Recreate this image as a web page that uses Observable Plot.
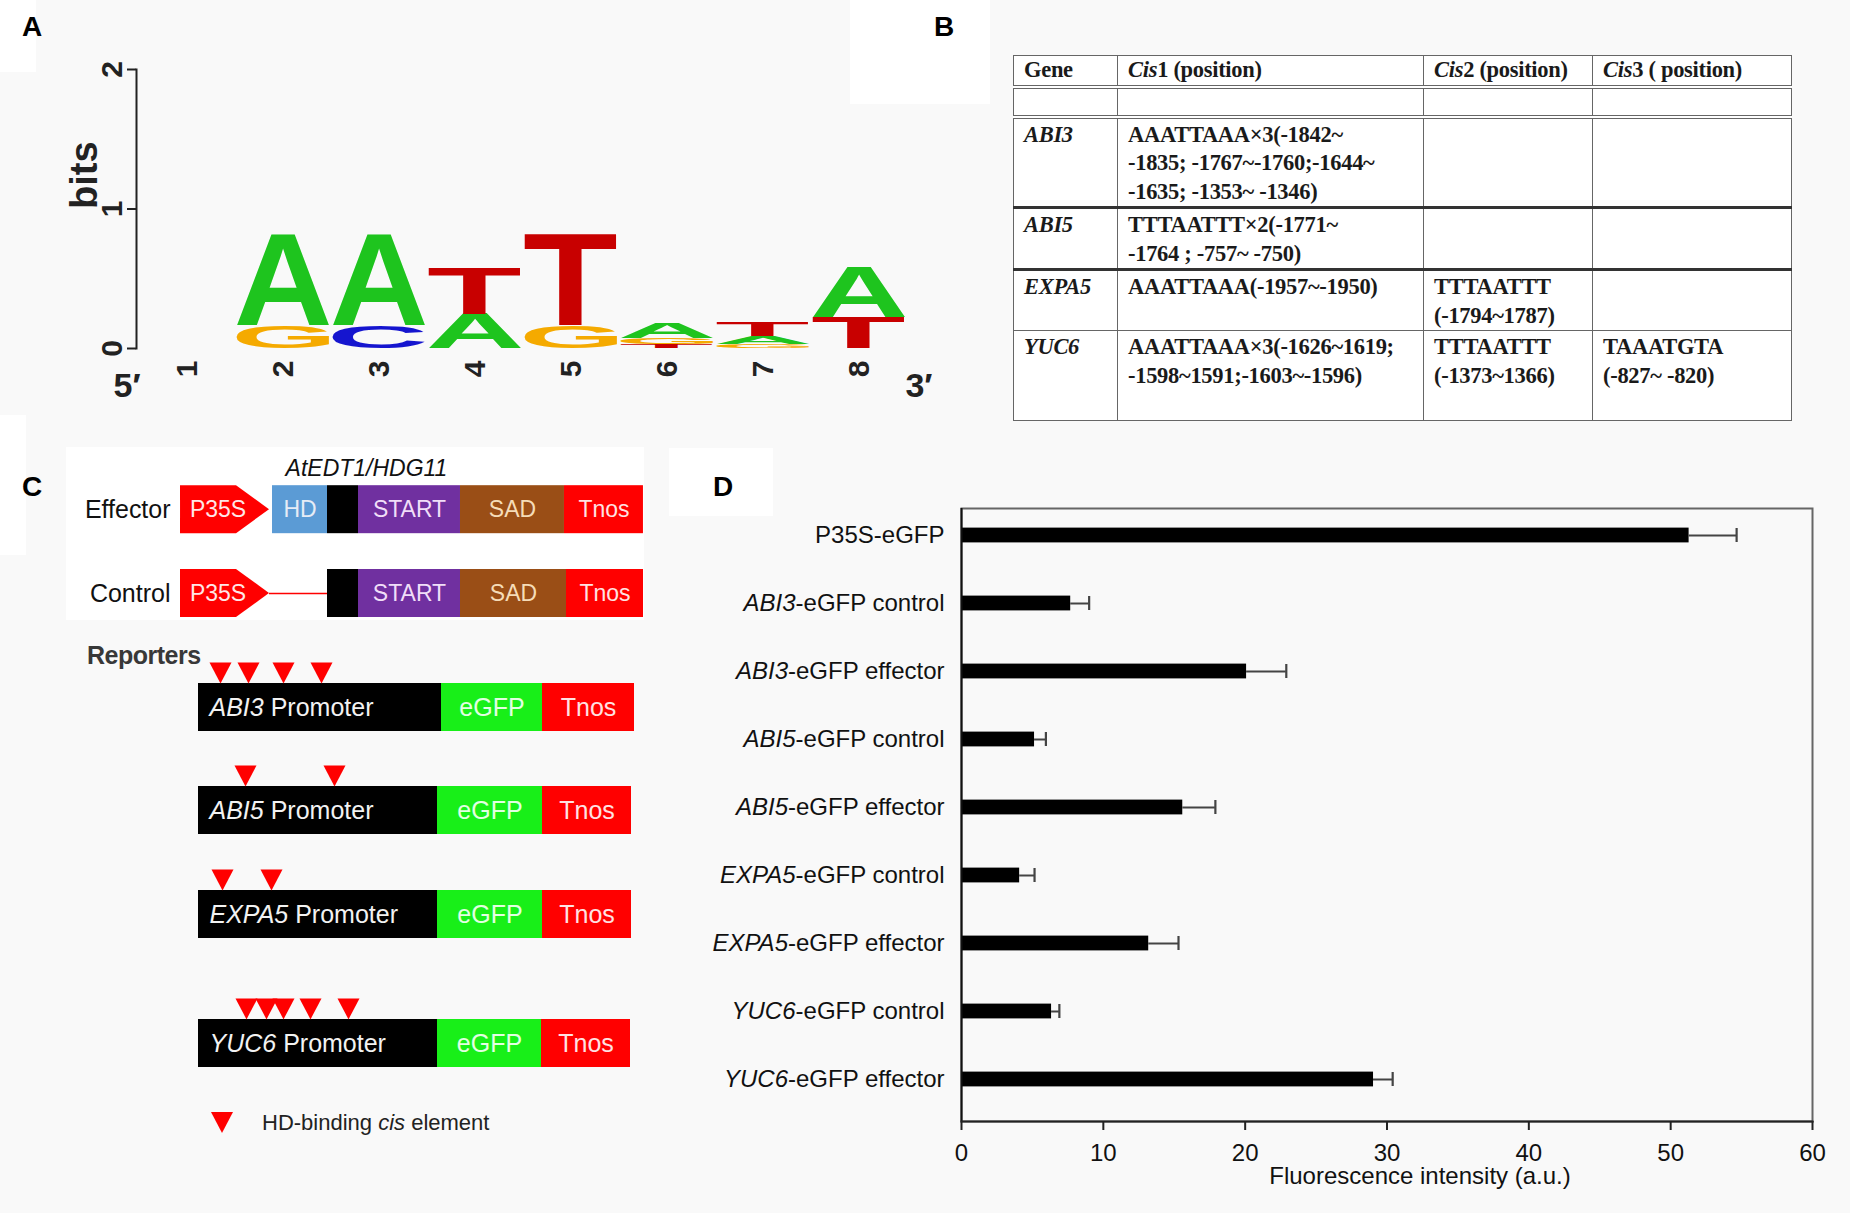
<!DOCTYPE html>
<html>
<head>
<meta charset="utf-8">
<script src="https://cdn.jsdelivr.net/npm/d3@7"></script>
<script src="https://cdn.jsdelivr.net/npm/@observablehq/plot@0.6"></script>
<style>
html,body{margin:0;padding:0;background:#f9f9f9;}
#root{position:relative;width:1850px;height:1213px;overflow:hidden;font-family:"Liberation Sans",Arial,sans-serif;color:#111;}
.patch{position:absolute;background:#fff;}
.plabel{position:absolute;font:bold 28px "Liberation Sans",Arial,sans-serif;transform:translate(-50%,-50%);line-height:1;color:#000;}
#tbl{position:absolute;left:1013px;top:55px;border-collapse:collapse;background:#fff;font-family:"Liberation Serif","Times New Roman",serif;font-weight:bold;font-size:22.5px;color:#1a1a1a;table-layout:fixed;}
#tbl td{border:1.5px solid #666;vertical-align:top;padding:2px 0 0 10px;line-height:28.5px;white-space:pre-line;letter-spacing:-0.3px;overflow:hidden;}
#tbl tr.hdr td{vertical-align:middle;padding-top:0;border-bottom:4px double #666;}
#tbl tr.blank td{border-bottom:4px double #666;}
#tbl tr.thick td{border-bottom:3px solid #333;}
.txt{position:absolute;white-space:nowrap;line-height:1;}
</style>
</head>
<body>
<div id="root"></div>
<script>
// ===================== DATA =====================
// Panel A: sequence logo (information content in bits, stacked bottom -> top)
const logoPositions = [1, 2, 3, 4, 5, 6, 7, 8];
const logoLetters = [[], ["G", "A"], ["C", "A"], ["A", "T"], ["G", "T"], ["T", "G", "A"], ["G", "A", "T"], ["T", "A"]];
const logoBits = [[], [0.163, 0.658], [0.163, 0.658], [0.246, 0.335], [0.163, 0.658], [0.025, 0.05, 0.115], [0.03, 0.054, 0.103], [0.222, 0.358]];
const logoTicks = [0, 1, 2];

// Panel B: table of HD-binding cis elements
const tableHeader = ["Gene", "Cis1 (position)", "Cis2 (position)", "Cis3 ( position)"];
const tableGenes = ["ABI3", "ABI5", "EXPA5", "YUC6"];
const tableCis1 = [
  "AAATTAAA×3(-1842~\n-1835; -1767~-1760;-1644~\n-1635; -1353~ -1346)",
  "TTTAATTT×2(-1771~\n-1764 ; -757~ -750)",
  "AAATTAAA(-1957~-1950)",
  "AAATTAAA×3(-1626~1619;\n-1598~1591;-1603~-1596)"
];
const tableCis2 = ["", "", "TTTAATTT\n(-1794~1787)", "TTTAATTT\n(-1373~1366)"];
const tableCis3 = ["", "", "", "TAAATGTA\n(-827~ -820)"];

// Panel C: constructs (schematic segment lengths)
const effectorParts = ["P35S", "gap", "HD", "linker", "START", "SAD", "Tnos"];
const effectorLengths = [89, 3, 55, 31, 102, 104, 79];
const controlParts = ["P35S", "deletion", "linker", "START", "SAD", "Tnos"];
const controlLengths = [89, 58, 31, 102, 106, 77];
const reporterGenes = ["ABI3", "ABI5", "EXPA5", "YUC6"];
const reporterParts = ["Promoter", "eGFP", "Tnos"];
const reporterLengths = [[243, 101, 92], [239, 105, 89], [239, 105, 89], [239, 104, 89]];
const cisSites = [[22, 50, 85, 123], [47, 136], [24, 73], [48, 68, 85, 112, 150]];

// Panel D: fluorescence intensity (a.u.), mean and error
const dLabels = ["P35S-eGFP", "ABI3-eGFP control", "ABI3-eGFP effector", "ABI5-eGFP control", "ABI5-eGFP effector",
                 "EXPA5-eGFP control", "EXPA5-eGFP effector", "YUC6-eGFP control", "YUC6-eGFP effector"];
const dMeans = [51.3, 7.7, 20.1, 5.15, 15.6, 4.1, 13.2, 6.35, 29.05];
const dErrors = [3.35, 1.3, 2.8, 0.8, 2.3, 1.05, 2.1, 0.55, 1.35];
const dTicks = [0, 10, 20, 30, 40, 50, 60];
const dAxisTitle = "Fluorescence intensity (a.u.)";
const italicGenes = ["ABI3", "ABI5", "EXPA5", "YUC6"];

// ===================== STYLES =====================
const logoColors = {A: "#1ec41e", C: "#1515cf", G: "#f5aa00", T: "#c80000"};
const partFill = {P35S: "#ff0000", HD: "#5b9bd5", linker: "#000000", START: "#7030a0", SAD: "#9a4e16", Tnos: "#ff0000", Promoter: "#000000", eGFP: "#18ef18"};
const partText = {P35S: "#ffe6e6", HD: "#e6ecf6", START: "#f0def8", SAD: "#f5dcb8", Tnos: "#ffe2e2", Promoter: "#f2f2f2", eGFP: "#e2ffe2"};
const plotStyle = {background: "transparent", fontFamily: "'Liberation Sans', Arial, sans-serif", color: "#111", overflow: "visible"};

const root = document.getElementById("root");
function put(node, left, top) {
  node.style.position = "absolute";
  node.style.left = left + "px";
  node.style.top = top + "px";
  root.appendChild(node);
  return node;
}
function patch(l, t, w, h) {
  const d = document.createElement("div");
  d.className = "patch";
  d.style.width = w + "px"; d.style.height = h + "px";
  put(d, l, t);
}
function label(txt, x, y) {
  const d = document.createElement("div");
  d.className = "plabel"; d.textContent = txt;
  put(d, x, y);
}
const SVGNS = "http://www.w3.org/2000/svg";
function italicize(svg) {
  svg.querySelectorAll("text").forEach(t => {
    if (t.querySelector("tspan")) return;
    const s = t.textContent;
    const g = italicGenes.find(g => s.startsWith(g) && s.length > g.length);
    if (!g) return;
    t.textContent = "";
    const a = document.createElementNS(SVGNS, "tspan");
    a.setAttribute("font-style", "italic"); a.textContent = g;
    const b = document.createElementNS(SVGNS, "tspan");
    b.textContent = s.slice(g.length);
    t.append(a, b);
  });
}
function scaleFn(plot, name) {
  const s = plot.scale(name);
  if (s && typeof s.apply === "function") return v => s.apply(v);
  if (s.type === "band") {
    return d3.scaleBand().domain(s.domain).range(s.range)
      .paddingInner(s.paddingInner || 0).paddingOuter(s.paddingOuter || 0).align(s.align == null ? 0.5 : s.align);
  }
  return d3.scaleLinear().domain(s.domain).range(s.range);
}

// white patches (background of original panels)
patch(0, 0, 36, 72);
patch(850, 0, 140, 104);
patch(0, 415, 26, 140);
patch(66, 447, 578, 173);
patch(669, 448, 104, 68);

// ===================== PANEL A =====================
const logoRows = [];
logoPositions.forEach((p, i) => {
  let acc = 0;
  logoLetters[i].forEach((b, j) => {
    const h = logoBits[i][j];
    logoRows.push({pos: p, base: b, y1: acc, y2: acc + h});
    acc += h;
  });
});

const plotA = Plot.plot({
  width: 960, height: 420,
  marginLeft: 136, marginRight: 53, marginTop: 69, marginBottom: 72,
  style: plotStyle,
  x: {type: "band", domain: logoPositions, range: [139, 907], padding: 0, axis: null, label: null},
  y: {domain: [0, 2], axis: null, label: null},
  marks: [
    Plot.frame({anchor: "left", stroke: "#222", strokeWidth: 2}),
    Plot.axisY({ticks: logoTicks, tickSize: 9, tickFormat: () => "", stroke: "#222", strokeWidth: 2, label: null}),
    Plot.text(logoTicks, {y: d => d, text: d => String(d), frameAnchor: "left", dx: -15, rotate: -90,
      textAnchor: "middle", lineAnchor: "bottom", fontSize: 30, fontWeight: "bold", fill: "#222"}),
    Plot.text(logoPositions, {x: d => d, text: d => String(d), frameAnchor: "bottom", dy: 12, rotate: -90,
      textAnchor: "end", lineAnchor: "middle", fontSize: 30, fontWeight: "bold", fill: "#222"}),
    Plot.text(["bits"], {text: d => d, frameAnchor: "left", dx: -52, rotate: -90, lineAnchor: "middle",
      fontSize: 38, fontWeight: "bold", fill: "#222"}),
    Plot.text(["5′"], {text: d => d, frameAnchor: "bottom-left", dx: -23, dy: 48, fontSize: 34, fontWeight: "bold", fill: "#222"}),
    Plot.text(["3′"], {text: d => d, frameAnchor: "bottom-right", dx: 25, dy: 48, fontSize: 34, fontWeight: "bold", fill: "#222"}),
    // sequence-logo letters: last text mark, stretched to their stack boxes below
    Plot.text(logoRows, {x: "pos", y: "y1", text: "base", fill: d => logoColors[d.base], fontSize: 100, fontWeight: "bold"})
  ]
});
put(plotA, 0, 0);
(function stretchLetters() {
  const fx = scaleFn(plotA, "x"), fy = scaleFn(plotA, "y");
  const bw = plotA.scale("x").bandwidth;
  const ctx = document.createElement("canvas").getContext("2d");
  ctx.font = "bold 100px 'Liberation Sans'";
  const groups = plotA.querySelectorAll('g[aria-label="text"]');
  const grp = groups[groups.length - 1];
  grp.setAttribute("text-anchor", "start");
  grp.removeAttribute("transform");
  const texts = grp.querySelectorAll("text");
  texts.forEach((t, i) => {
    const r = logoRows[i];
    const m = ctx.measureText(r.base);
    const L = m.actualBoundingBoxLeft, R = m.actualBoundingBoxRight;
    const A = m.actualBoundingBoxAscent, D = m.actualBoundingBoxDescent;
    const x0 = fx(r.pos) + 1.5, w = bw - 3;
    const yTop = fy(r.y2), yBot = fy(r.y1);
    const h = Math.max(0.1, yBot - yTop);
    ["x", "y", "dx", "dy"].forEach(a => t.removeAttribute(a));
    t.setAttribute("text-anchor", "start");
    t.setAttribute("font-size", "100");
    t.setAttribute("font-family", "'Liberation Sans', Arial, sans-serif");
    t.setAttribute("transform", `translate(${x0},${yTop}) scale(${w / (L + R)},${h / (A + D)}) translate(${L},${A})`);
  });
})();
label("A", 32, 27);

// ===================== PANEL B =====================
label("B", 944, 27);
(function buildTable() {
  const tbl = document.createElement("table");
  tbl.id = "tbl";
  const cg = document.createElement("colgroup");
  [104, 306, 169, 199].forEach(w => { const c = document.createElement("col"); c.style.width = w + "px"; cg.appendChild(c); });
  tbl.appendChild(cg);
  function addRow(cells, cls, h, italicFirst) {
    const tr = document.createElement("tr");
    if (cls) tr.className = cls;
    tr.style.height = h + "px";
    cells.forEach((c, k) => {
      const td = document.createElement("td");
      if (cls === "hdr" && c.startsWith("Cis")) {
        const i = document.createElement("i"); i.textContent = "Cis";
        td.appendChild(i); td.appendChild(document.createTextNode(c.slice(3)));
      } else if (k === 0 && italicFirst) {
        const i = document.createElement("i"); i.textContent = c; td.appendChild(i);
      } else td.textContent = c;
      tr.appendChild(td);
    });
    tbl.appendChild(tr);
  }
  addRow(tableHeader, "hdr", 31);
  addRow(["", "", "", ""], "blank", 30);
  const heights = [88, 61, 58, 90];
  tableGenes.forEach((g, i) => {
    addRow([g, tableCis1[i], tableCis2[i], tableCis3[i]], i < 2 ? "thick" : "", heights[i], true);
  });
  root.appendChild(tbl);
})();

// ===================== PANEL C =====================
label("C", 32, 487);
const HALF = 24;      // half box height in px
const arrowTip = 33;  // length of the promoter arrow head
const triDown = {
  draw(context, size) {
    const r = Math.sqrt(size / Math.PI);
    context.moveTo(-r, -r * 0.95);
    context.lineTo(r, -r * 0.95);
    context.lineTo(0, r * 0.95);
    context.closePath();
  }
};
function constructPlot({parts, lengths, rowLabel, gene, sites, ymax, heading}) {
  const ml = 130, span = 470;
  const segs = [];
  let acc = 0;
  parts.forEach((p, i) => { segs.push({part: p, x1: acc, x2: acc + lengths[i]}); acc += lengths[i]; });
  const boxes = segs.filter(s => partFill[s.part] && s.part !== "P35S");
  const arrow = segs.find(s => s.part === "P35S");
  const del = segs.find(s => s.part === "deletion");
  const centred = segs.filter(s => partText[s.part] && s.part !== "Promoter");
  const prom = segs.filter(s => s.part === "Promoter");
  const marks = [
    Plot.rect(boxes, {x1: "x1", x2: "x2", y1: -1, y2: 1, fill: d => partFill[d.part]})
  ];
  if (arrow) {
    marks.push(Plot.areaY([
      {x: arrow.x1, lo: -1, hi: 1}, {x: arrow.x2 - arrowTip, lo: -1, hi: 1}, {x: arrow.x2, lo: 0, hi: 0}
    ], {x: "x", y1: "lo", y2: "hi", fill: partFill.P35S, curve: "linear"}));
  }
  if (del) marks.push(Plot.ruleY([0], {x1: del.x1, x2: del.x2, stroke: "#ff0000", strokeWidth: 1.6}));
  marks.push(Plot.text(centred, {
    x: d => d.part === "P35S" ? (d.x1 + d.x2) / 2 - 7 : (d.x1 + d.x2) / 2, y: 0,
    text: d => d.part, fill: d => partText[d.part], fontSize: gene ? 25 : 23
  }));
  if (prom.length) marks.push(Plot.text(prom, {x: "x1", y: 0, dx: 11, text: () => gene + " Promoter",
    textAnchor: "start", fill: partText.Promoter, fontSize: 25}));
  if (rowLabel) marks.push(Plot.text([rowLabel], {x: 0, y: 0, dx: -10, text: d => d, textAnchor: "end", fontSize: 25, fill: "#111"}));
  if (sites) marks.push(Plot.dot(sites, {x: d => d, y: 1.44, r: 11, symbol: triDown, fill: "#ff0000", stroke: "none"}));
  if (heading) {
    const hd = segs.find(s => s.part === "HD"), st = segs.find(s => s.part === "START");
    marks.push(Plot.text([heading], {x: (hd.x1 + st.x2) / 2, y: 1.69, text: d => d, fontStyle: "italic", fontSize: 23, fill: "#111"}));
  }
  const p = Plot.plot({
    width: ml + span + 10, height: (ymax + 1) * HALF,
    marginLeft: ml, marginRight: 10, marginTop: 0, marginBottom: 0,
    style: plotStyle,
    x: {domain: [0, span], range: [ml, ml + span], axis: null, label: null},
    y: {domain: [-1, ymax], axis: null, label: null},
    marks
  });
  italicize(p);
  return {plot: p, ml};
}
function placeConstruct(cp, startX, centerY, ymax) {
  put(cp.plot, startX - cp.ml, centerY - ymax * HALF);
}
let cp = constructPlot({parts: effectorParts, lengths: effectorLengths, rowLabel: "Effector", ymax: 2.3, heading: "AtEDT1/HDG11"});
placeConstruct(cp, 180, 509, 2.3);
cp = constructPlot({parts: controlParts, lengths: controlLengths, rowLabel: "Control", ymax: 1});
placeConstruct(cp, 180, 592.5, 1);
const reporterCenters = [706.5, 810, 914, 1043];
reporterGenes.forEach((g, i) => {
  const c = constructPlot({parts: reporterParts, lengths: reporterLengths[i], gene: g, sites: cisSites[i], ymax: 2});
  placeConstruct(c, 198, reporterCenters[i], 2);
});
(function reportersLabel() {
  const d = document.createElement("div");
  d.className = "txt";
  d.style.font = "bold 25px 'Liberation Sans', Arial, sans-serif";
  d.style.letterSpacing = "-0.5px";
  d.style.color = "#383838";
  d.textContent = "Reporters";
  put(d, 87, 641);
})();
(function legendC() {
  const wrap = document.createElement("div");
  wrap.className = "txt";
  wrap.style.font = "22px 'Liberation Sans', Arial, sans-serif";
  wrap.style.color = "#222";
  wrap.style.display = "flex";
  wrap.style.alignItems = "center";
  wrap.innerHTML = '<svg width="22" height="22" style="margin-right:29px"><polygon points="0,0 22,0 11,21" fill="#ff0000"/></svg>' +
    '<span>HD-binding <i>cis</i> element</span>';
  put(wrap, 211, 1110);
})();

// ===================== PANEL D =====================
label("D", 723, 487);
const dRows = dLabels.map((lab, i) => ({label: lab, mean: dMeans[i], err: dErrors[i]}));
const plotD = Plot.plot({
  width: 1150, height: 773,
  marginLeft: 261, marginRight: 38, marginTop: 68, marginBottom: 92,
  style: plotStyle,
  x: {domain: [0, 60], label: null},
  y: {domain: dLabels, range: [60.4, 674.1], padding: 0, label: null},
  marks: [
    Plot.frame({stroke: "#666", strokeWidth: 2}),
    Plot.barX(dRows, {x: "mean", y: "label", fill: "#000", insetTop: 26.6, insetBottom: 26.6}),
    Plot.ruleY(dRows, {y: "label", x1: "mean", x2: d => d.mean + d.err, stroke: "#444", strokeWidth: 2}),
    Plot.tickX(dRows, {x: d => d.mean + d.err, y: "label", insetTop: 27, insetBottom: 27, stroke: "#444", strokeWidth: 2.2}),
    Plot.ruleX([0], {stroke: "#111", strokeWidth: 2}),
    Plot.frame({anchor: "bottom", stroke: "#222", strokeWidth: 2}),
    Plot.axisX({ticks: dTicks, tickSize: 9, tickPadding: 13, fontSize: 24, stroke: "#222", strokeWidth: 2, label: null}),
    Plot.axisY({tickSize: 0, tickPadding: 17, fontSize: 24, label: null}),
    Plot.text([dAxisTitle], {text: d => d, frameAnchor: "bottom", dx: 33, dy: 62, fontSize: 24, fill: "#111"})
  ]
});
italicize(plotD);
put(plotD, 700, 440);
</script>
</body>
</html>
